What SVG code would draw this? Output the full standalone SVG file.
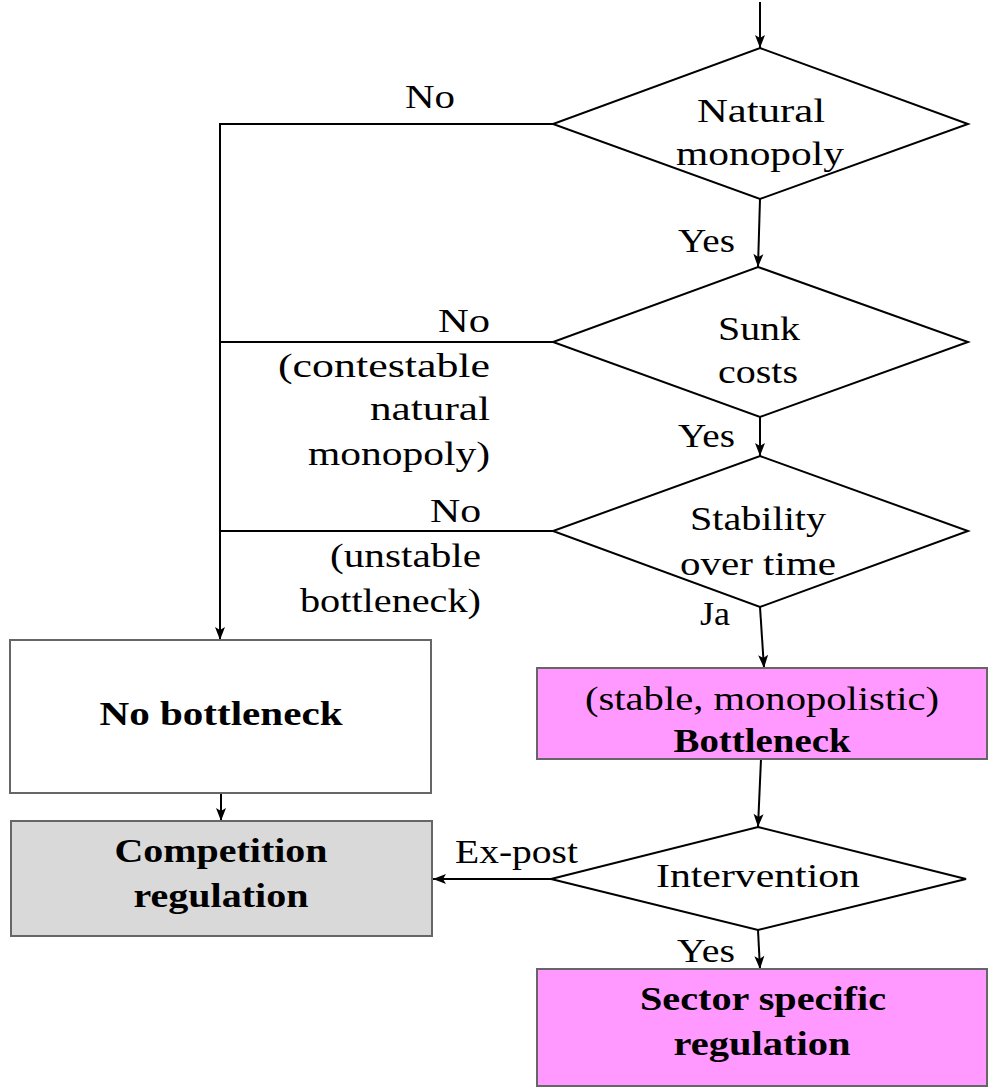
<svg xmlns="http://www.w3.org/2000/svg" width="990" height="1088" viewBox="0 0 990 1088">
  <style>
    text { font-family: "Liberation Serif", "Times New Roman", serif; font-size: 34px; fill: #000; }
    .b { font-weight: bold; }
    .c { text-anchor: middle; }
    .e { text-anchor: end; }
    .dia { fill: #fff; stroke: #000; stroke-width: 2; }
    .box { stroke: #666; stroke-width: 2; }
    .edge { fill: none; stroke: #000; stroke-width: 2; }
  </style>
  <defs>
    <marker id="arr" markerUnits="userSpaceOnUse" markerWidth="16" markerHeight="12" refX="14" refY="6" orient="auto">
      <path d="M14,6 L1,1 L4,6 L1,11 Z" fill="#000"/>
    </marker>
  </defs>

  <rect width="990" height="1088" fill="#fff"/>

  <!-- connectors -->
  <g id="connectors">
    <line class="edge" x1="760" y1="2" x2="760" y2="48" marker-end="url(#arr)"/>
    <line class="edge" x1="760" y1="199" x2="758" y2="267" marker-end="url(#arr)"/>
    <line class="edge" x1="760" y1="417" x2="760" y2="456" marker-end="url(#arr)"/>
    <line class="edge" x1="760" y1="607" x2="764" y2="668" marker-end="url(#arr)"/>
    <path class="edge" d="M553,124 H220 V640" marker-end="url(#arr)"/>
    <path class="edge" d="M553,342 H220"/>
    <path class="edge" d="M553,531 H220"/>
    <line class="edge" x1="221" y1="793" x2="221" y2="821" marker-end="url(#arr)"/>
    <line class="edge" x1="761" y1="759" x2="758" y2="827" marker-end="url(#arr)"/>
    <line class="edge" x1="551" y1="879" x2="433" y2="879" marker-end="url(#arr)"/>
    <line class="edge" x1="758" y1="930" x2="760" y2="969" marker-end="url(#arr)"/>

    <text x="430" y="108" class="c" textLength="50" lengthAdjust="spacingAndGlyphs">No</text>
    <text x="735" y="252" class="e" textLength="57" lengthAdjust="spacingAndGlyphs">Yes</text>
    <text x="490" y="332" class="e" textLength="52" lengthAdjust="spacingAndGlyphs">No</text>
    <text x="490" y="377" class="e" textLength="212" lengthAdjust="spacingAndGlyphs">(contestable</text>
    <text x="490" y="420" class="e" textLength="120" lengthAdjust="spacingAndGlyphs">natural</text>
    <text x="490" y="465" class="e" textLength="182" lengthAdjust="spacingAndGlyphs">monopoly)</text>
    <text x="735" y="447" class="e" textLength="57" lengthAdjust="spacingAndGlyphs">Yes</text>
    <text x="481" y="522" class="e" textLength="51" lengthAdjust="spacingAndGlyphs">No</text>
    <text x="481" y="567" class="e" textLength="151" lengthAdjust="spacingAndGlyphs">(unstable</text>
    <text x="481" y="612" class="e" textLength="181" lengthAdjust="spacingAndGlyphs">bottleneck)</text>
    <text x="700" y="625" textLength="30" lengthAdjust="spacingAndGlyphs">Ja</text>
    <text x="455" y="863" textLength="123" lengthAdjust="spacingAndGlyphs">Ex-post</text>
    <text x="677" y="962" textLength="58" lengthAdjust="spacingAndGlyphs">Yes</text>
  </g>

  <!-- decisions -->
  <g id="natural-monopoly">
    <polygon class="dia" points="760,48 968,124 760,199 553,124"/>
    <text x="761" y="122" class="c" textLength="128" lengthAdjust="spacingAndGlyphs">Natural</text>
    <text x="760" y="165" class="c" textLength="168" lengthAdjust="spacingAndGlyphs">monopoly</text>
  </g>
  <g id="sunk-costs">
    <polygon class="dia" points="758,267 968,342 760,417 553,342"/>
    <text x="759" y="340" class="c" textLength="82" lengthAdjust="spacingAndGlyphs">Sunk</text>
    <text x="758" y="383" class="c" textLength="80" lengthAdjust="spacingAndGlyphs">costs</text>
  </g>
  <g id="stability">
    <polygon class="dia" points="760,456 968,531 760,607 553,531"/>
    <text x="758" y="530" class="c" textLength="136" lengthAdjust="spacingAndGlyphs">Stability</text>
    <text x="758" y="575" class="c" textLength="156" lengthAdjust="spacingAndGlyphs">over time</text>
  </g>
  <g id="intervention">
    <polygon class="dia" points="758,827 966,879 758,930 551,879"/>
    <text x="758" y="887" class="c" textLength="204" lengthAdjust="spacingAndGlyphs">Intervention</text>
  </g>

  <!-- outcomes -->
  <g id="no-bottleneck">
    <rect class="box" x="10" y="640" width="421" height="153" fill="#fff"/>
    <text x="221" y="725" class="c b" textLength="243" lengthAdjust="spacingAndGlyphs">No bottleneck</text>
  </g>
  <g id="competition-regulation">
    <rect class="box" x="11" y="821" width="421" height="115" fill="#d9d9d9"/>
    <text x="221" y="862" class="c b" textLength="213" lengthAdjust="spacingAndGlyphs">Competition</text>
    <text x="221" y="907" class="c b" textLength="175" lengthAdjust="spacingAndGlyphs">regulation</text>
  </g>
  <g id="bottleneck">
    <rect class="box" x="537" y="668" width="450" height="91" fill="#ff99ff"/>
    <text x="762" y="710" class="c" textLength="354" lengthAdjust="spacingAndGlyphs">(stable, monopolistic)</text>
    <text x="762" y="752" class="c b" textLength="177" lengthAdjust="spacingAndGlyphs">Bottleneck</text>
  </g>
  <g id="sector-specific-regulation">
    <rect class="box" x="537" y="969" width="450" height="117" fill="#ff99ff"/>
    <text x="763" y="1010" class="c b" textLength="246" lengthAdjust="spacingAndGlyphs">Sector specific</text>
    <text x="762" y="1055" class="c b" textLength="177" lengthAdjust="spacingAndGlyphs">regulation</text>
  </g>
</svg>
